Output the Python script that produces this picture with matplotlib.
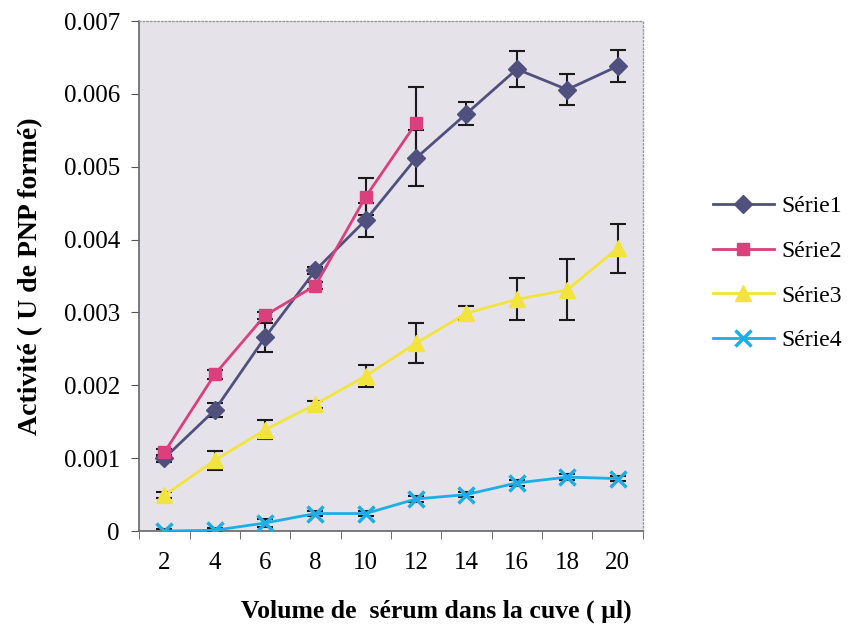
import numpy as np
import matplotlib
matplotlib.use('Agg')
import matplotlib.pyplot as plt

plt.rcParams['font.family'] = ['Liberation Serif', 'DejaVu Serif']

# volumes (µl)
volumes = [2, 4, 6, 8, 10, 12, 14, 16, 18, 20]

serie1 = [0.00100, 0.00166, 0.00266, 0.00358, 0.00427, 0.00512, 0.00573, 0.00634, 0.00606, 0.00638]
err1 = [0.00005, 0.00010, 0.00020, 0.00005, 0.00023, 0.00038, 0.00016, 0.00025, 0.00021, 0.00022]

serie2 = [0.00108, 0.00215, 0.00296, 0.00337, 0.00459, 0.00560]
err2 = [0.00005, 0.00006, 0.00005, 0.00005, 0.00025, 0.00050]

serie3 = [0.00049, 0.00097, 0.00139, 0.00174, 0.00213, 0.00258, 0.00299, 0.00318, 0.00331, 0.00388]
err3 = [0.00004, 0.00013, 0.00013, 0.00005, 0.00015, 0.00027, 0.00010, 0.00029, 0.00042, 0.00034]

serie4 = [0.0, 0.00001, 0.00011, 0.00024, 0.00024, 0.00044, 0.00050, 0.00066, 0.00074, 0.00072]
err4 = [0.00003, 0.00003, 0.00005, 0.00003, 0.00003, 0.00004, 0.00003, 0.00004, 0.00004, 0.00004]

yticks = [0, 0.001, 0.002, 0.003, 0.004, 0.005, 0.006, 0.007]
ytick_labels = ['0', '0.001', '0.002', '0.003', '0.004', '0.005', '0.006', '0.007']

fig = plt.figure(figsize=(8.49, 6.39), dpi=100)
ax = fig.add_axes([0.164, 0.169, 0.593, 0.798])
ax.set_facecolor('#e5e3e9')

pos = np.arange(len(volumes))

series = [
    (serie1, err1, 'Série1', '#50507e', 'D', 9),
    (serie2, err2, 'Série2', '#d9407c', 's', 8.5),
    (serie3, err3, 'Série3', '#f2e43c', '^', 11),
    (serie4, err4, 'Série4', '#1eaee6', 'x', 11),
]

for vals, errs, name, col, mk, ms in series:
    p = pos[:len(vals)]
    ax.errorbar(p, vals, yerr=errs, fmt='none', ecolor='#1a1a1a', elinewidth=1.5,
                capsize=6, capthick=1.5, zorder=2)
    ax.plot(p, vals, color=col, lw=2, marker=mk, markersize=ms,
            markeredgewidth=2.5 if mk == 'x' else 1, markeredgecolor=col,
            label=name, zorder=3)

ax.set_xlim(-0.5, len(volumes) - 0.5)
ax.set_ylim(0, 0.007)
ax.set_yticks(yticks)
ax.set_yticklabels(ytick_labels, fontsize=18)
ax.set_xticks(pos)
ax.set_xticklabels([str(v) for v in volumes], fontsize=18)
ax.set_xticks(np.arange(-0.5, len(volumes)), minor=True)
ax.tick_params(axis='x', which='major', length=0, pad=15)
ax.tick_params(axis='x', which='minor', length=6, direction='out', color='#555555')
ax.tick_params(axis='y', length=6, direction='out', color='#555555', pad=8)

for s in ['top', 'right']:
    ax.spines[s].set_color('#9a9a9a')
    ax.spines[s].set_linestyle(':')
    ax.spines[s].set_linewidth(1)
for s in ['left', 'bottom']:
    ax.spines[s].set_color('#666666')
    ax.spines[s].set_linewidth(1.2)

ax.set_xlabel('Volume de  sérum dans la cuve ( µl)', fontsize=18.5, fontweight='bold')
ax.xaxis.set_label_coords(0.59, -0.135)
ax.set_ylabel('Activité ( U de PNP formé)', fontsize=20, fontweight='bold')
ax.yaxis.set_label_coords(-0.19, 0.5)

ax.legend(loc='center left', bbox_to_anchor=(1.12, 0.505), frameon=False, fontsize=17,
          handlelength=2.6, labelspacing=0.98, handletextpad=0.3, borderaxespad=0)

fig.savefig('out.png', dpi=100)
